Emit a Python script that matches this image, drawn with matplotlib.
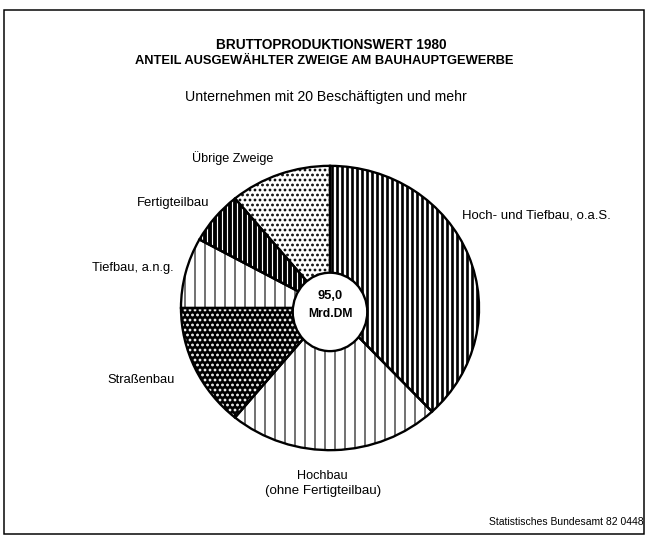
import matplotlib
matplotlib.use("Agg")
import matplotlib.pyplot as plt
from matplotlib.patches import Ellipse, Rectangle

# ---- data ----
categories = ["Hoch- und Tiefbau, o.a.S.", "Hochbau", "Straßenbau",
              "Tiefbau, a.n.g.", "Fertigteilbau", "Übrige Zweige"]
shares = [38, 23, 14, 8, 6, 11]
total_value = "95,0"
total_unit = "Mrd.DM"
title1 = "BRUTTOPRODUKTIONSWERT 1980"
title2 = "ANTEIL AUSGEWÄHLTER ZWEIGE AM BAUHAUPTGEWERBE"
subtitle = "Unternehmen mit 20 Beschäftigten und mehr"
hochbau_note = "(ohne Fertigteilbau)"
source = "Statistisches Bundesamt 82 0448"

# ---- styles ----
faces = ["white", "white", "black", "white", "black", "white"]
hatch_cols = ["black", "black", "white", "black", "white", "black"]
hatches = ["||", "|", "..", "|", "||", ".."]
hatch_lws = [3.2, 1.3, 2.1, 1.3, 1.4, 2.1]

plt.rcParams["font.family"] = ["Liberation Sans", "DejaVu Sans"]

DPI = 60
W, H = 648, 536
fig = plt.figure(figsize=(W / DPI, H / DPI), dpi=DPI)
fig.patch.set_facecolor("white")

# pie axes: centre (330, 308) px, radii 152 x 145 px
cx, cy, rx, ry = 330, 308, 152, 145
ax = fig.add_axes([(cx - rx) / W, (H - cy - ry) / H, 2 * rx / W, 2 * ry / H])
wedges, _ = ax.pie(shares, startangle=90, counterclock=False, radius=1,
                   colors=faces)
for w, hc, h, lw in zip(wedges, hatch_cols, hatches, hatch_lws):
    w.set_edgecolor(hc)
    w.set_hatch(h)
    w.set_linewidth(0)
    try:
        w.set_hatch_linewidth(lw)
    except Exception:
        w._hatch_linewidth = lw
# outlines
ax.pie(shares, startangle=90, counterclock=False, radius=1,
       wedgeprops=dict(fill=False, edgecolor="black", linewidth=2.8))
ax.set_aspect("auto")
ax.set_xlim(-1.02, 1.02)
ax.set_ylim(-1.02, 1.02)
ax.axis("off")
inner = Ellipse((0, -4 / ry), 2 * 38 / rx, 2 * 40 / ry, facecolor="white",
                edgecolor="black", linewidth=2.8, zorder=5)
ax.add_patch(inner)


def ftext(x, y, s, **kw):
    fig.text(x / W, 1 - y / H, s, **kw)


ftext(330, 296, total_value, ha="center", va="center", fontsize=15.5,
      fontweight="bold", zorder=6)
ftext(330, 314, total_unit, ha="center", va="center", fontsize=14.5,
      fontweight="bold", zorder=6)

ftext(331, 45, title1, ha="center", va="center", fontsize=16.4, fontweight="bold")
ftext(324, 61, title2, ha="center", va="center", fontsize=15.4, fontweight="bold")
ftext(326, 97, subtitle, ha="center", va="center", fontsize=16.9)

ftext(233, 158, categories[5], ha="center", va="center", fontsize=15.2)
ftext(209, 203, categories[4], ha="right", va="center", fontsize=15.8)
ftext(174, 268, categories[3], ha="right", va="center", fontsize=15.5)
ftext(175, 380, categories[2], ha="right", va="center", fontsize=15.5)
ftext(462, 215, categories[0], ha="left", va="center", fontsize=15.8)
ftext(322, 476, categories[1], ha="center", va="center", fontsize=15.2)
ftext(323, 491, hochbau_note, ha="center", va="center", fontsize=16)
ftext(644, 522, source, ha="right", va="center", fontsize=12.4)

fig.add_artist(Rectangle((4 / W, 2 / H), 640 / W, 524 / H, transform=fig.transFigure,
                         fill=False, edgecolor="black", linewidth=1.8))

fig.savefig("out.png", dpi=DPI)
